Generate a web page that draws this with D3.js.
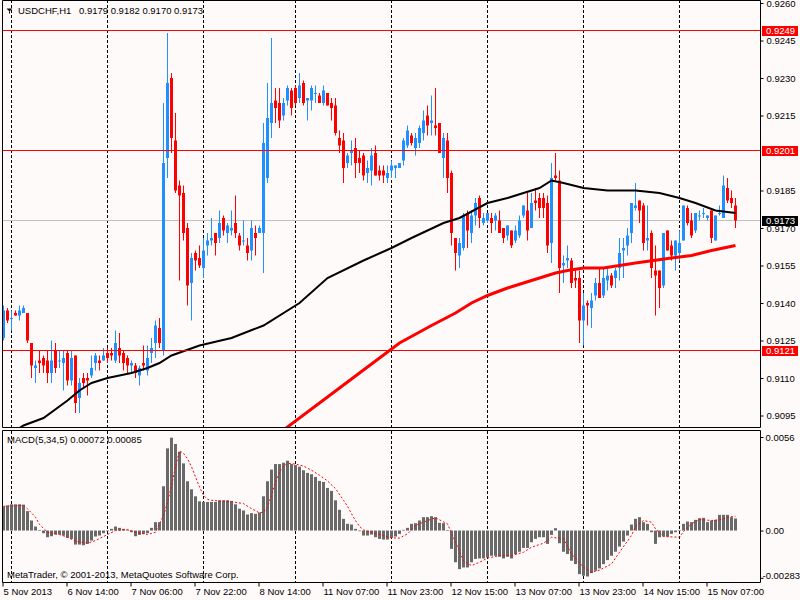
<!DOCTYPE html>
<html>
<head>
<meta charset="utf-8">
<script src="https://cdn.jsdelivr.net/npm/d3@7"></script>
<style>
body{margin:0;background:#fffafa;}
svg{display:block;font-family:"Liberation Sans",Arial,sans-serif;font-size:9.5px;}
</style>
</head>
<body>
<div id="chart"></div>
<script>
var W = 800, H = 600;
var symbol = "USDCHF,H1";

// hourly candles, 5 Nov 22:00 .. 15 Nov 14:00
var opens = [
0.9126,0.9137,0.9134,0.9136,0.9135,0.9136,0.9136,0.9124,0.9114,0.9117,
0.9118,0.9117,0.9112,0.9121,0.9117,0.9116,0.9120,0.9109,0.9119,0.9102,
0.9110,0.9110,0.9111,0.9116,0.9117,0.9117,0.9120,0.9120,0.9117,0.9122,
0.9120,0.9118,0.9115,0.9115,0.9111,0.9116,0.9113,0.9120,0.9124,0.9130,
0.9121,0.9198,0.9230,0.9205,0.9187,0.9184,0.9170,0.9148,0.9160,0.9158,
0.9154,0.9163,0.9165,0.9168,0.9166,0.9174,0.9168,0.9169,0.9172,0.9167,
0.9165,0.9163,0.9161,0.9168,0.9168,0.9168,0.9190,0.9212,0.9221,0.9220,
0.9215,0.9221,0.9225,0.9226,0.9222,0.9228,0.9221,0.9221,0.9224,0.9223,
0.9220,0.9224,0.9220,0.9219,0.9206,0.9205,0.9196,0.9200,0.9202,0.9198,
0.9199,0.9192,0.9193,0.9200,0.9193,0.9193,0.9190,0.9193,0.9194,0.9194,
0.9197,0.9203,0.9207,0.9202,0.9204,0.9208,0.9215,0.9212,0.9211,0.9212,
0.9198,0.9205,0.9192,0.9166,0.9159,0.9162,0.9176,0.9168,0.9175,0.9182,
0.9172,0.9173,0.9174,0.9173,0.9173,0.9170,0.9167,0.9169,0.9165,0.9167,
0.9175,0.9177,0.9170,0.9181,0.9182,0.9182,0.9180,0.9164,0.9191,0.9189,
0.9155,0.9157,0.9157,0.9150,0.9150,0.9133,0.9140,0.9138,0.9143,0.9148,
0.9143,0.9149,0.9151,0.9150,0.9154,0.9161,0.9163,0.9168,0.9178,0.9181,
0.9179,0.9165,0.9168,0.9153,0.9153,0.9147,0.9169,0.9163,0.9159,0.9160,
0.9165,0.9178,0.9173,0.9169,0.9175,0.9176,0.9174,0.9177,0.9165,0.9176,
0.9174,0.9186,0.9182,0.9179];
var highs = [
0.9139,0.9138,0.9137,0.9137,0.9139,0.9139,0.9136,0.9124,0.9117,0.9121,
0.9119,0.9121,0.9125,0.9124,0.9121,0.9121,0.9121,0.9121,0.9119,0.9110,
0.9112,0.9112,0.9119,0.9120,0.9119,0.9122,0.9122,0.9122,0.9129,0.9128,
0.9121,0.9119,0.9117,0.9116,0.9115,0.9123,0.9123,0.9126,0.9133,0.9134,
0.9220,0.9248,0.9232,0.9216,0.9189,0.9187,0.9172,0.9160,0.9161,0.9163,
0.9166,0.9168,0.9174,0.9168,0.9177,0.9175,0.9172,0.9177,0.9183,0.9168,
0.9173,0.9166,0.9173,0.9171,0.9171,0.9212,0.9228,0.9246,0.9226,0.9226,
0.9222,0.9227,0.9226,0.9227,0.9232,0.9229,0.9222,0.9227,0.9227,0.9224,
0.9227,0.9224,0.9222,0.9222,0.9209,0.9208,0.9200,0.9205,0.9206,0.9201,
0.9200,0.9197,0.9202,0.9203,0.9195,0.9195,0.9195,0.9197,0.9195,0.9196,
0.9206,0.9211,0.9208,0.9208,0.9211,0.9217,0.9219,0.9223,0.9226,0.9212,
0.9208,0.9208,0.9193,0.9166,0.9166,0.9176,0.9177,0.9177,0.9182,0.9183,
0.9176,0.9176,0.9176,0.9176,0.9177,0.9170,0.9171,0.9169,0.9171,0.9175,
0.9179,0.9184,0.9184,0.9186,0.9184,0.9184,0.9183,0.9196,0.9200,0.9193,
0.9159,0.9163,0.9158,0.9154,0.9153,0.9144,0.9141,0.9144,0.9150,0.9154,
0.9154,0.9154,0.9152,0.9154,0.9166,0.9166,0.9170,0.9180,0.9188,0.9181,
0.9180,0.9179,0.9169,0.9163,0.9153,0.9168,0.9169,0.9165,0.9165,0.9169,
0.9179,0.9179,0.9176,0.9176,0.9177,0.9178,0.9175,0.9177,0.9175,0.9179,
0.9191,0.9190,0.9185,0.9182];
var lows = [
0.9125,0.9132,0.9129,0.9135,0.9133,0.9136,0.9124,0.9110,0.9108,0.9112,
0.9112,0.9108,0.9108,0.9112,0.9114,0.9105,0.9107,0.9107,0.9096,0.9096,
0.9106,0.9103,0.9110,0.9113,0.9113,0.9117,0.9116,0.9117,0.9116,0.9116,
0.9113,0.9112,0.9112,0.9110,0.9107,0.9113,0.9111,0.9116,0.9118,0.9122,
0.9119,0.9190,0.9200,0.9184,0.9149,0.9165,0.9139,0.9133,0.9153,0.9154,
0.9150,0.9159,0.9163,0.9159,0.9164,0.9167,0.9164,0.9167,0.9166,0.9161,
0.9163,0.9157,0.9157,0.9159,0.9168,0.9152,0.9188,0.9206,0.9212,0.9210,
0.9213,0.9219,0.9215,0.9219,0.9220,0.9219,0.9213,0.9217,0.9220,0.9220,
0.9219,0.9219,0.9213,0.9207,0.9200,0.9188,0.9194,0.9195,0.9190,0.9192,
0.9189,0.9188,0.9187,0.9191,0.9189,0.9188,0.9188,0.9190,0.9190,0.9194,
0.9195,0.9202,0.9203,0.9199,0.9202,0.9205,0.9207,0.9207,0.9207,0.9200,
0.9190,0.9184,0.9163,0.9153,0.9154,0.9161,0.9162,0.9164,0.9171,0.9170,
0.9171,0.9172,0.9168,0.9169,0.9168,0.9164,0.9165,0.9162,0.9164,0.9166,
0.9174,0.9165,0.9170,0.9177,0.9174,0.9174,0.9160,0.9156,0.9189,0.9144,
0.9148,0.9154,0.9146,0.9146,0.9124,0.9123,0.9131,0.9130,0.9141,0.9142,
0.9142,0.9145,0.9146,0.9146,0.9149,0.9150,0.9159,0.9164,0.9177,0.9172,
0.9161,0.9161,0.9150,0.9135,0.9138,0.9146,0.9161,0.9157,0.9153,0.9157,
0.9165,0.9171,0.9166,0.9168,0.9173,0.9174,0.9173,0.9164,0.9165,0.9175,
0.9174,0.9180,0.9178,0.9170];
var closes = [
0.9137,0.9133,0.9134,0.9135,0.9137,0.9138,0.9125,0.9115,0.9115,0.9116,
0.9115,0.9112,0.9117,0.9114,0.9117,0.9118,0.9109,0.9118,0.9100,0.9108,
0.9108,0.9109,0.9114,0.9119,0.9116,0.9119,0.9118,0.9119,0.9124,0.9119,
0.9116,0.9115,0.9116,0.9112,0.9114,0.9115,0.9118,0.9122,0.9131,0.9124,
0.9196,0.9228,0.9206,0.9185,0.9183,0.9168,0.9147,0.9158,0.9157,0.9155,
0.9161,0.9165,0.9166,0.9164,0.9172,0.9169,0.9171,0.9170,0.9168,0.9163,
0.9165,0.9160,0.9170,0.9166,0.9170,0.9204,0.9214,0.9220,0.9218,0.9213,
0.9220,0.9226,0.9218,0.9220,0.9227,0.9220,0.9222,0.9226,0.9224,0.9220,
0.9225,0.9219,0.9218,0.9208,0.9203,0.9194,0.9199,0.9201,0.9196,0.9196,
0.9191,0.9194,0.9199,0.9191,0.9191,0.9191,0.9192,0.9195,0.9195,0.9196,
0.9205,0.9209,0.9204,0.9206,0.9210,0.9213,0.9211,0.9213,0.9210,0.9200,
0.9206,0.9190,0.9168,0.9160,0.9164,0.9175,0.9169,0.9175,0.9180,0.9174,
0.9174,0.9176,0.9172,0.9175,0.9168,0.9166,0.9171,0.9163,0.9169,0.9173,
0.9179,0.9169,0.9180,0.9180,0.9178,0.9178,0.9163,0.9190,0.9190,0.9154,
0.9156,0.9158,0.9148,0.9149,0.9133,0.9139,0.9139,0.9141,0.9148,0.9142,
0.9150,0.9151,0.9147,0.9153,0.9160,0.9162,0.9167,0.9180,0.9179,0.9177,
0.9164,0.9166,0.9154,0.9151,0.9146,0.9168,0.9161,0.9159,0.9165,0.9164,
0.9179,0.9172,0.9167,0.9176,0.9175,0.9176,0.9175,0.9166,0.9175,0.9176,
0.9187,0.9181,0.9180,0.9173];

// moving averages, read at sample bars
var maBlackBars = [3,5,10,16,19,22,26,29,32,36,39,42,49,57,65,74,81,90,97,102,106,110,114,121,126,130,134,137,140,145,151,158,164,169,173,178,183];
var maBlackVals = [0.9089,0.9091,0.9094,0.9101,0.9105,0.9108,0.9110,0.9111,0.9112,0.9114,0.9116,0.9119,0.9123,0.9126,0.9131,0.9140,0.9150,0.9157,0.9162,0.9166,0.9169,0.9172,0.9174,0.9180,0.9182,0.9184,0.9186,0.9189,0.9188,0.9186,0.9185,0.9185,0.9184,0.9182,0.9180,0.9177,0.9176];
var maRedBars = [69,79,89,99,107,113,117,121,126,130,134,138,141,145,150,158,167,172,177,183];
var maRedVals = [0.9088,0.9100,0.9112,0.9124,0.9131,0.9136,0.9140,0.9143,0.9146,0.9148,0.9150,0.9152,0.9153,0.9154,0.9154,0.9156,0.9158,0.9159,0.9161,0.9163];

// MACD(5,34,5) histogram per bar
var macdVals = [
0.00145,0.0015,0.00157,0.00157,0.00157,0.00155,0.00116,0.0006,0.00024,0.00002,
-0.00016,-0.0004,-0.00034,-0.00024,-0.00024,-0.0003,-0.00044,-0.0005,-0.00084,-0.00084,
-0.00088,-0.0008,-0.0006,-0.00036,-0.0003,-0.00016,-0.00004,0.0001,0.00024,0.00016,
0.0001,0.00004,-0.0001,-0.00034,-0.00026,-0.0002,-0.00016,0.00016,0.0005,0.0005,
0.00265,0.00492,0.00556,0.00518,0.00472,0.00402,0.00295,0.00247,0.00205,0.00175,
0.00171,0.00171,0.00171,0.00171,0.00181,0.00181,0.00181,0.00177,0.00157,0.00131,
0.0012,0.00096,0.00104,0.001,0.00108,0.00205,0.00295,0.00365,0.00398,0.00398,
0.00406,0.00418,0.00398,0.00392,0.00382,0.00361,0.00345,0.00337,0.00321,0.00297,
0.00291,0.00255,0.00237,0.00181,0.00124,0.0007,0.0004,0.00036,0.0001,-0.00004,
-0.0003,-0.0003,-0.00024,-0.0004,-0.0005,-0.00054,-0.00054,-0.00044,-0.00036,-0.0002,
0.00004,0.00016,0.0004,0.00044,0.0006,0.0008,0.0008,0.00086,0.0008,0.00046,
0.00044,0.00001,-0.0011,-0.0019,-0.00231,-0.00221,-0.00221,-0.0019,-0.0017,-0.00167,
-0.00167,-0.00161,-0.00151,-0.00151,-0.00157,-0.00167,-0.00157,-0.00167,-0.00141,-0.00127,
-0.00104,-0.00104,-0.0007,-0.0005,-0.0004,-0.0004,-0.0008,-0.00026,0.00014,-0.00076,
-0.00127,-0.00141,-0.00181,-0.00201,-0.00261,-0.00271,-0.00275,-0.00255,-0.00241,-0.00227,
-0.00201,-0.00177,-0.00151,-0.00127,-0.00096,-0.00066,-0.0003,0.00036,0.0007,0.0008,
0.0005,0.0004,-0.0001,-0.0008,-0.0004,-0.00036,-0.00036,-0.0002,-0.0001,0.00002,
0.0004,0.00054,0.0005,0.00064,0.00074,0.00076,0.0005,0.0006,0.00064,0.00094,
0.00094,0.00094,0.0008,0.00072];
// signal line, read at sample bars
var sigBars = [0,5,6,8,9,11,14,16,18,21,23,26,28,31,33,36,38,39,40,41,42,43,44,45,46,47,48,49,50,51,52,54,57,60,62,64,65,66,67,68,69,70,71,73,75,77,79,81,83,85,86,87,88,89,90,92,95,97,99,101,103,106,108,111,113,115,117,119,121,124,127,130,132,135,137,140,142,145,147,149,152,154,157,158,160,162,163,165,169,170,172,174,177,179,182,183];
var sigVals = [0.00145,0.0015,0.0013,0.0008,0.00036,-0.0001,-0.00024,-0.0004,-0.00064,-0.00076,-0.0006,-0.00024,0,0.00006,-0.0001,-0.00024,-0.0001,0.0004,0.0009,0.00167,0.0027,0.0038,0.00478,0.00462,0.0043,0.00382,0.00321,0.00261,0.00211,0.00187,0.00181,0.00177,0.00173,0.00161,0.00131,0.00106,0.0011,0.00141,0.00211,0.00291,0.00351,0.00386,0.00402,0.00398,0.00386,0.00361,0.00331,0.00297,0.00251,0.00181,0.00145,0.001,0.0006,0.00024,0.00004,-0.00012,-0.0003,-0.00044,-0.00045,-0.0002,0.0003,0.0006,0.00076,0.0004,-0.0007,-0.0018,-0.0021,-0.0019,-0.00165,-0.0015,-0.0015,-0.0013,-0.001,-0.00076,-0.0004,-0.0005,-0.0014,-0.0022,-0.0025,-0.00237,-0.002,-0.0013,-0.0003,0.00024,0.0006,0.0005,0.0001,-0.00036,-0.0004,-0.00006,0.0004,0.00066,0.0006,0.00064,0.00084,0.00085];

var priceTicks = [0.9260,0.9245,0.9230,0.9215,0.9185,0.9170,0.9155,0.9140,0.9125,0.9110,0.9095];
var levelLines = [0.9249,0.9201,0.9121];
var bidPrice = 0.9173;
var macdTicks = [0.0056,0,-0.00283];
var macdTickLabels = ["0.0056","0.00","-0.00283"];
var timeBars = [0,16,32,48,64,80,96,112,128,144,160,176];
var timeLabels = ["5 Nov 2013","6 Nov 14:00","7 Nov 06:00","7 Nov 22:00","8 Nov 14:00","11 Nov 07:00","11 Nov 23:00","12 Nov 15:00","13 Nov 07:00","13 Nov 23:00","14 Nov 15:00","15 Nov 07:00"];
var gridBars = [2,26,50,73,97,121,145,169];

var bullColor = "#1e90ff", bearColor = "#ff0000";
var FS = "9.5px";

var svg = d3.select("#chart").append("svg")
	.attr("width", W).attr("height", H);
svg.append("rect").attr("width", W).attr("height", H).attr("fill", "#fffafa");

var xs = d3.scaleLinear().domain([0, 183]).range([3.5, 735.5]);
var ys = d3.scaleLinear().domain([0.9095, 0.9260]).range([415.5, 3]);
var ym = d3.scaleLinear().domain([-0.00283, 0.0056]).range([577.8, 437]);

var defs = svg.append("defs");
defs.append("clipPath").attr("id", "clipMain")
	.append("rect").attr("x", 3).attr("y", 0).attr("width", 757).attr("height", 427);
defs.append("clipPath").attr("id", "clipMacd")
	.append("rect").attr("x", 3).attr("y", 431).attr("width", 757).attr("height", 151);

// dashed day grid in both panels
var grid = svg.append("g").attr("stroke", "#000").attr("stroke-dasharray", "3,2");
gridBars.forEach(function(b){
	grid.append("line").attr("x1", xs(b)).attr("x2", xs(b)).attr("y1", 0).attr("y2", 427);
	grid.append("line").attr("x1", xs(b)).attr("x2", xs(b)).attr("y1", 431).attr("y2", 582);
});

var main = svg.append("g").attr("clip-path", "url(#clipMain)");

// bid line
main.append("line").attr("x1", 3).attr("x2", 760).attr("y1", ys(bidPrice)).attr("y2", ys(bidPrice))
	.attr("stroke", "#c0c0c0");

var idx = d3.range(opens.length);
function isUp(i){ return closes[i] >= opens[i]; }
main.selectAll("line.wick").data(idx).join("line").attr("class", "wick")
	.attr("x1", function(i){ return xs(i); }).attr("x2", function(i){ return xs(i); })
	.attr("y1", function(i){ return ys(highs[i]); }).attr("y2", function(i){ return ys(lows[i]); })
	.attr("stroke", function(i){ return isUp(i) ? bullColor : bearColor; });
main.selectAll("rect.body").data(idx).join("rect").attr("class", "body")
	.attr("x", function(i){ return xs(i) - 1.5; }).attr("width", 3)
	.attr("y", function(i){ return ys(Math.max(opens[i], closes[i])); })
	.attr("height", function(i){ return Math.max(1, ys(Math.min(opens[i], closes[i])) - ys(Math.max(opens[i], closes[i]))); })
	.attr("fill", function(i){ return isUp(i) ? bullColor : bearColor; });

var priceLine = d3.line().x(function(d){ return xs(d[0]); }).y(function(d){ return ys(d[1]); });
main.append("path").datum(d3.zip(maRedBars, maRedVals)).attr("d", priceLine)
	.attr("fill", "none").attr("stroke", "#ff0000").attr("stroke-width", 3);
main.append("path").datum(d3.zip(maBlackBars, maBlackVals)).attr("d", priceLine)
	.attr("fill", "none").attr("stroke", "#000").attr("stroke-width", 2);

// red level lines
levelLines.forEach(function(v){
	main.append("line").attr("x1", 3).attr("x2", 760).attr("y1", ys(v)).attr("y2", ys(v))
		.attr("stroke", "#ff0000");
});

// MACD panel
var macd = svg.append("g").attr("clip-path", "url(#clipMacd)");
macd.selectAll("rect").data(idx).join("rect")
	.attr("x", function(i){ return xs(i) - 1.5; }).attr("width", 3)
	.attr("y", function(i){ return Math.min(ym(0), ym(macdVals[i])); })
	.attr("height", function(i){ return Math.max(0.6, Math.abs(ym(macdVals[i]) - ym(0))); })
	.attr("fill", "#696969");
var sigLine = d3.line().x(function(d){ return xs(d[0]); }).y(function(d){ return ym(d[1]); });
macd.append("path").datum(d3.zip(sigBars, sigVals)).attr("d", sigLine)
	.attr("fill", "none").attr("stroke", "#ff0000").attr("stroke-dasharray", "2,2");

// frames
var frame = svg.append("g").attr("fill", "none").attr("stroke", "#000");
frame.append("path").attr("d", "M2.5,0.5H760.5V427.5H2.5Z");
frame.append("path").attr("d", "M2.5,430.5H760.5V582.5H2.5Z");

// axes
var yAxis = d3.axisRight(ys).tickValues(priceTicks).tickSize(3).tickPadding(3)
	.tickFormat(function(d){ return d.toFixed(4); });
var gy = svg.append("g").attr("transform", "translate(760.5,0)").call(yAxis);
var mAxis = d3.axisRight(ym).tickValues(macdTicks).tickSize(3).tickPadding(2)
	.tickFormat(function(d, i){ return macdTickLabels[i]; });
var gm = svg.append("g").attr("transform", "translate(760.5,0)").call(mAxis);
var xAxis = d3.axisBottom(xs).tickValues(timeBars).tickSize(4).tickPadding(2)
	.tickFormat(function(d, i){ return timeLabels[i]; });
var gx = svg.append("g").attr("transform", "translate(-1,582.5)").call(xAxis);
gx.selectAll("text").attr("text-anchor", "start").attr("x", 0.5);
[gy, gm, gx].forEach(function(g){
	g.select(".domain").remove();
	g.attr("font-family", null).attr("font-size", FS);
	g.selectAll("text").attr("fill", "#000");
	g.selectAll("line").attr("stroke", "#000");
});
gm.selectAll("text").filter(function(d){ return d < 0; }).attr("x", 2).attr("dy", "0.1em");

// price boxes
function priceBox(v, color){
	var y = ys(v);
	svg.append("rect").attr("x", 762).attr("y", y - 4.5).attr("width", 36).attr("height", 10).attr("fill", color);
	svg.append("text").attr("x", 766).attr("y", y + 3.5).attr("font-size", FS).attr("fill", "#fff").text(v.toFixed(4));
}
levelLines.forEach(function(v){ priceBox(v, "#ff0000"); });
priceBox(bidPrice, "#000");

// header texts
var last = opens.length - 1;
svg.append("path").attr("d", "M6.5,8.5H12.5L9.5,11.5Z M9,11.5H10V13.5H9Z").attr("fill", "#000");
svg.append("text").attr("x", 18).attr("y", 14).attr("font-size", FS).text(symbol);
svg.append("text").attr("x", 79).attr("y", 14).attr("font-size", FS)
	.text([opens[last], highs[last], lows[last], closes[last]].map(function(v){ return v.toFixed(4); }).join(" "));
svg.append("text").attr("x", 7).attr("y", 442.5).attr("font-size", FS)
	.text("MACD(5,34,5) " + macdVals[last].toFixed(5) + " " + sigVals[sigVals.length - 1].toFixed(5));
svg.append("text").attr("x", 7).attr("y", 578).attr("font-size", FS)
	.text("MetaTrader, © 2001-2013, MetaQuotes Software Corp.");
</script>
</body>
</html>
